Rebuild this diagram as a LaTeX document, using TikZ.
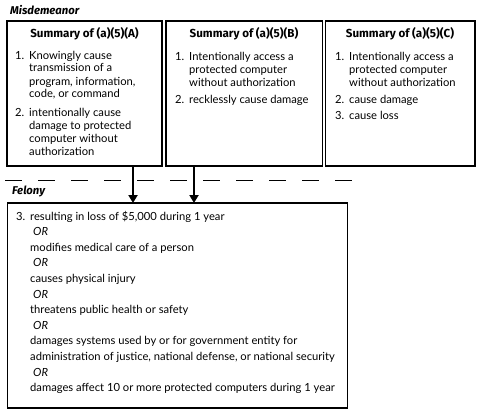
\documentclass[tikz,border=0pt]{standalone}
\usepackage{fontspec}
\setmainfont{Lato}
\newfontfamily\headfont{Fira Sans}
\usetikzlibrary{arrows.meta}
\begin{document}
\begin{tikzpicture}[x=1pt,y=-1pt,
  box/.style={draw,line width=1.1pt},
  heading/.style={font=\headfont\bfseries\itshape\fontsize{11.3}{12}\selectfont,anchor=base west,inner sep=0pt},
  title/.style={font=\headfont\bfseries\fontsize{11.6}{12}\selectfont,anchor=base,inner sep=0pt},
  item/.style={font=\fontsize{11.2}{13}\selectfont,align=left,anchor=base west,inner sep=0pt},
  fel/.style={font=\fontsize{11.2}{15.6}\selectfont,align=left,anchor=base west,inner sep=0pt},
  flow/.style={line width=2.6pt,-{Triangle[width=9pt,length=8pt]}},
  sep/.style={line width=1pt,dash pattern=on 17pt off 16pt}]
\useasboundingbox (0,0) rectangle (482,412);
\newcommand\num[1]{\makebox[14pt][l]{#1}}
\newcommand\ind{\hspace*{14pt}}

% section labels and divider
\node[heading] (mis) at (10,14.5) {Misdemeanor};
\node[heading] (fel) at (12,194.5) {Felony};
\coordinate (sepL) at (5,180);
\coordinate (sepR) at (352,180);
\draw[sep] (sepL) -- (sepR);

% the three offence summaries
\draw[box] (7,21) rectangle (162,166);
\draw[box] (166,21) rectangle (322.5,166);
\draw[box] (325.5,21) rectangle (475,166);
\coordinate (Abot) at (133,166);
\coordinate (Bbot) at (194,166);

\node[title] (tA) at (84.5,38) {Summary of (a)(5)(A)};
\node[title] (tB) at (244,38) {Summary of (a)(5)(B)};
\node[title] (tC) at (400,38) {Summary of (a)(5)(C)};

% multi-line nodes are placed by the baseline of their last line
\node[item] (a1) at (15,98) {\num{1.}Knowingly cause\\\ind transmission of a\\\ind program, information,\\\ind code, or command};
\node[item] (a2) at (15,155) {\num{2.}intentionally cause\\\ind damage to protected\\\ind computer without\\\ind authorization};

\node[item] (b1) at (175,86) {\num{1.}Intentionally access a\\\ind protected computer\\\ind without authorization};
\node[item] (b2) at (175,103) {\num{2.}recklessly cause damage};

\node[item] (c1) at (335,86) {\num{1.}Intentionally access a\\\ind protected computer\\\ind without authorization};
\node[item] (c2) at (335,103) {\num{2.}cause damage};
\node[item] (c3) at (335,119) {\num{3.}cause loss};

% felony conditions
\draw[box] (7.5,203) rectangle (347.5,408);
\coordinate (Ftop1) at (133,203);
\coordinate (Ftop2) at (194,203);
\node[fel] (f3) at (16,391.6) {\num{3.}resulting in loss of \$5,000 during 1 year\\
\ind\hspace{3pt}\textit{OR}\\
\ind modifies medical care of a person\\
\ind\hspace{3pt}\textit{OR}\\
\ind causes physical injury\\
\ind\hspace{3pt}\textit{OR}\\
\ind threatens public health or safety\\
\ind\hspace{3pt}\textit{OR}\\
\ind damages systems used by or for government entity for\\
\ind administration of justice, national defense, or national security\\
\ind\hspace{3pt}\textit{OR}\\
\ind damages affect 10 or more protected computers during 1 year};

\draw[flow] (Abot) -- (Ftop1);
\draw[flow] (Bbot) -- (Ftop2);
\end{tikzpicture}
\end{document}
